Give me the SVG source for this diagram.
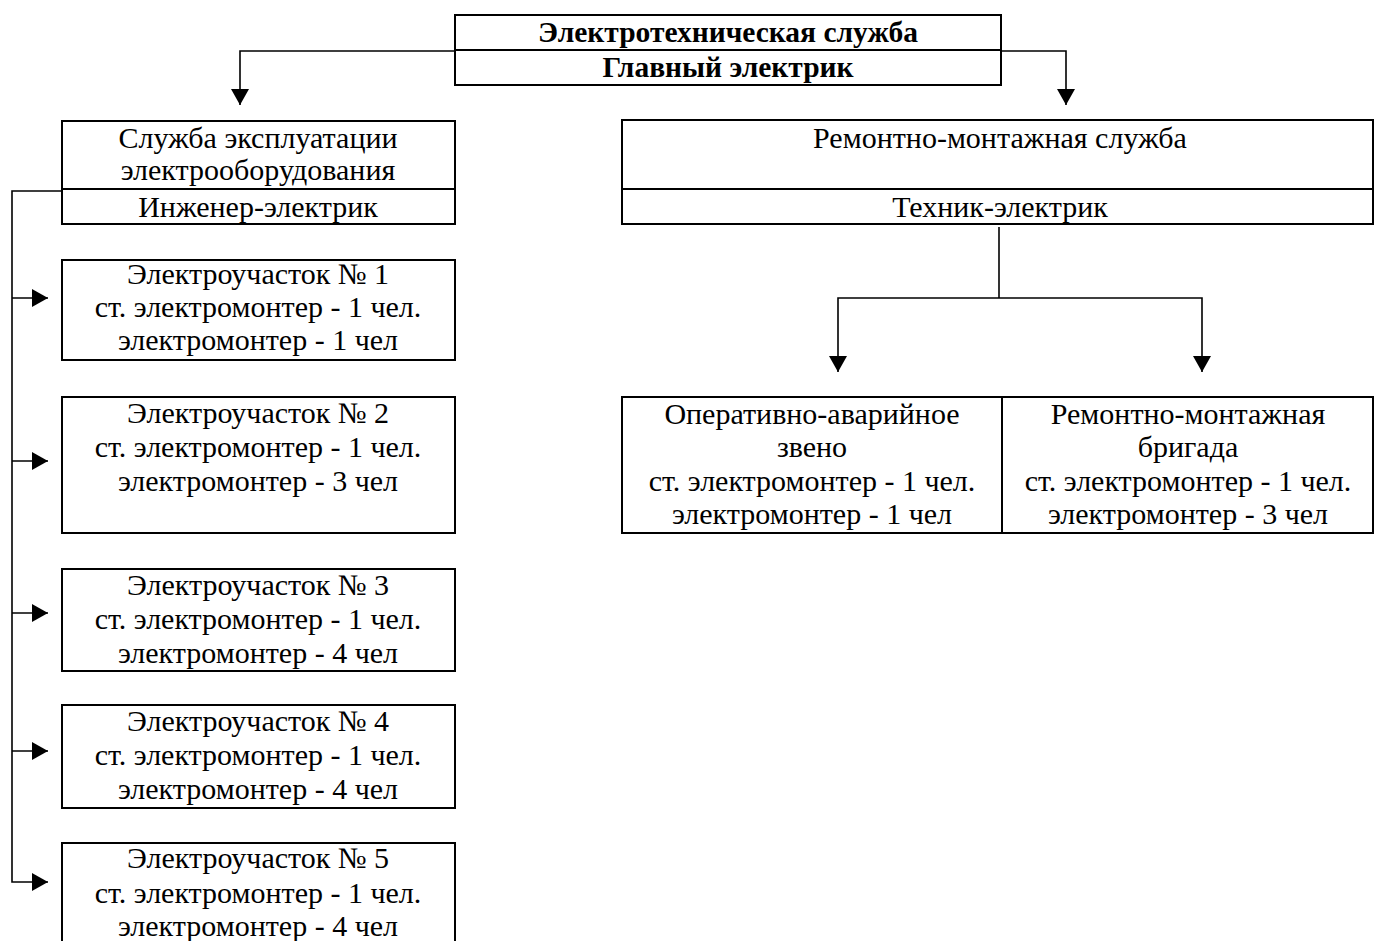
<svg xmlns="http://www.w3.org/2000/svg" width="1374" height="941" viewBox="0 0 1374 941">
<style>
  .box { fill: #fff; stroke: #000; stroke-width: 2; }
  .div { stroke: #000; stroke-width: 2; fill: none; }
  .t { font-family: "Liberation Serif", "Times New Roman", serif; font-size: 30px; fill: #000; text-anchor: middle; }
  .b { font-weight: bold; font-size: 29.5px; }
  .c { stroke: #000; stroke-width: 1.6; fill: none; }
</style>
<defs>
  <marker id="arr" viewBox="0 0 16 18" refX="16" refY="9" markerWidth="16" markerHeight="18" markerUnits="userSpaceOnUse" orient="auto">
    <path d="M0,0 L16,9 L0,18 z" fill="#000"/>
  </marker>
</defs>
<rect width="1374" height="941" fill="#fff"/>

<g id="connectors">
  <path class="c" d="M455,51 H240 V105" marker-end="url(#arr)"/>
  <path class="c" d="M1001,51 H1066 V105" marker-end="url(#arr)"/>
  <path class="c" d="M62,191 H12 V882 H48" marker-end="url(#arr)"/>
  <path class="c" d="M12,298 H48" marker-end="url(#arr)"/>
  <path class="c" d="M12,461 H48" marker-end="url(#arr)"/>
  <path class="c" d="M12,613 H48" marker-end="url(#arr)"/>
  <path class="c" d="M12,751 H48" marker-end="url(#arr)"/>
  <path class="c" d="M999,227 V298" />
  <path class="c" d="M999,298 H838 V372" marker-end="url(#arr)"/>
  <path class="c" d="M999,298 H1202 V372" marker-end="url(#arr)"/>
</g>

<g id="node-main">
  <rect class="box" x="455" y="15" width="546" height="70"/>
  <line class="div" x1="455" y1="50" x2="1001" y2="50"/>
  <text class="t b" x="728" y="42">Электротехническая служба</text>
  <text class="t b" x="728" y="77">Главный электрик</text>
</g>

<g id="node-exploitation">
  <rect class="box" x="62" y="121" width="393" height="103"/>
  <line class="div" x1="62" y1="189" x2="455" y2="189"/>
  <text class="t" x="258" y="148">Служба эксплуатации</text>
  <text class="t" x="258" y="180">электрооборудования</text>
  <text class="t" x="258" y="217">Инженер-электрик</text>
</g>

<g id="node-repair">
  <rect class="box" x="622" y="120" width="751" height="104"/>
  <line class="div" x1="622" y1="189" x2="1373" y2="189"/>
  <text class="t" x="1000" y="148">Ремонтно-монтажная служба</text>
  <text class="t" x="1000" y="217">Техник-электрик</text>
</g>

<g id="node-uch1">
  <rect class="box" x="62" y="260" width="393" height="100"/>
  <text class="t" x="258" y="284">Электроучасток № 1</text>
  <text class="t" x="258" y="317">ст. электромонтер - 1 чел.</text>
  <text class="t" x="258" y="350">электромонтер - 1 чел</text>
</g>

<g id="node-uch2">
  <rect class="box" x="62" y="397" width="393" height="136"/>
  <text class="t" x="258" y="423">Электроучасток № 2</text>
  <text class="t" x="258" y="457">ст. электромонтер - 1 чел.</text>
  <text class="t" x="258" y="491">электромонтер - 3 чел</text>
</g>

<g id="node-uch3">
  <rect class="box" x="62" y="569" width="393" height="102"/>
  <text class="t" x="258" y="595">Электроучасток № 3</text>
  <text class="t" x="258" y="629">ст. электромонтер - 1 чел.</text>
  <text class="t" x="258" y="663">электромонтер - 4 чел</text>
</g>

<g id="node-uch4">
  <rect class="box" x="62" y="705" width="393" height="103"/>
  <text class="t" x="258" y="731">Электроучасток № 4</text>
  <text class="t" x="258" y="765">ст. электромонтер - 1 чел.</text>
  <text class="t" x="258" y="799">электромонтер - 4 чел</text>
</g>

<g id="node-uch5">
  <rect class="box" x="62" y="843" width="393" height="110"/>
  <text class="t" x="258" y="868">Электроучасток № 5</text>
  <text class="t" x="258" y="903">ст. электромонтер - 1 чел.</text>
  <text class="t" x="258" y="936">электромонтер - 4 чел</text>
</g>

<g id="node-operative">
  <rect class="box" x="622" y="397" width="380" height="136"/>
  <text class="t" x="812" y="424">Оперативно-аварийное</text>
  <text class="t" x="812" y="457">звено</text>
  <text class="t" x="812" y="491">ст. электромонтер - 1 чел.</text>
  <text class="t" x="812" y="524">электромонтер - 1 чел</text>
</g>

<g id="node-brigade">
  <rect class="box" x="1002" y="397" width="371" height="136"/>
  <text class="t" x="1188" y="424">Ремонтно-монтажная</text>
  <text class="t" x="1188" y="457">бригада</text>
  <text class="t" x="1188" y="491">ст. электромонтер - 1 чел.</text>
  <text class="t" x="1188" y="524">электромонтер - 3 чел</text>
</g>
</svg>
